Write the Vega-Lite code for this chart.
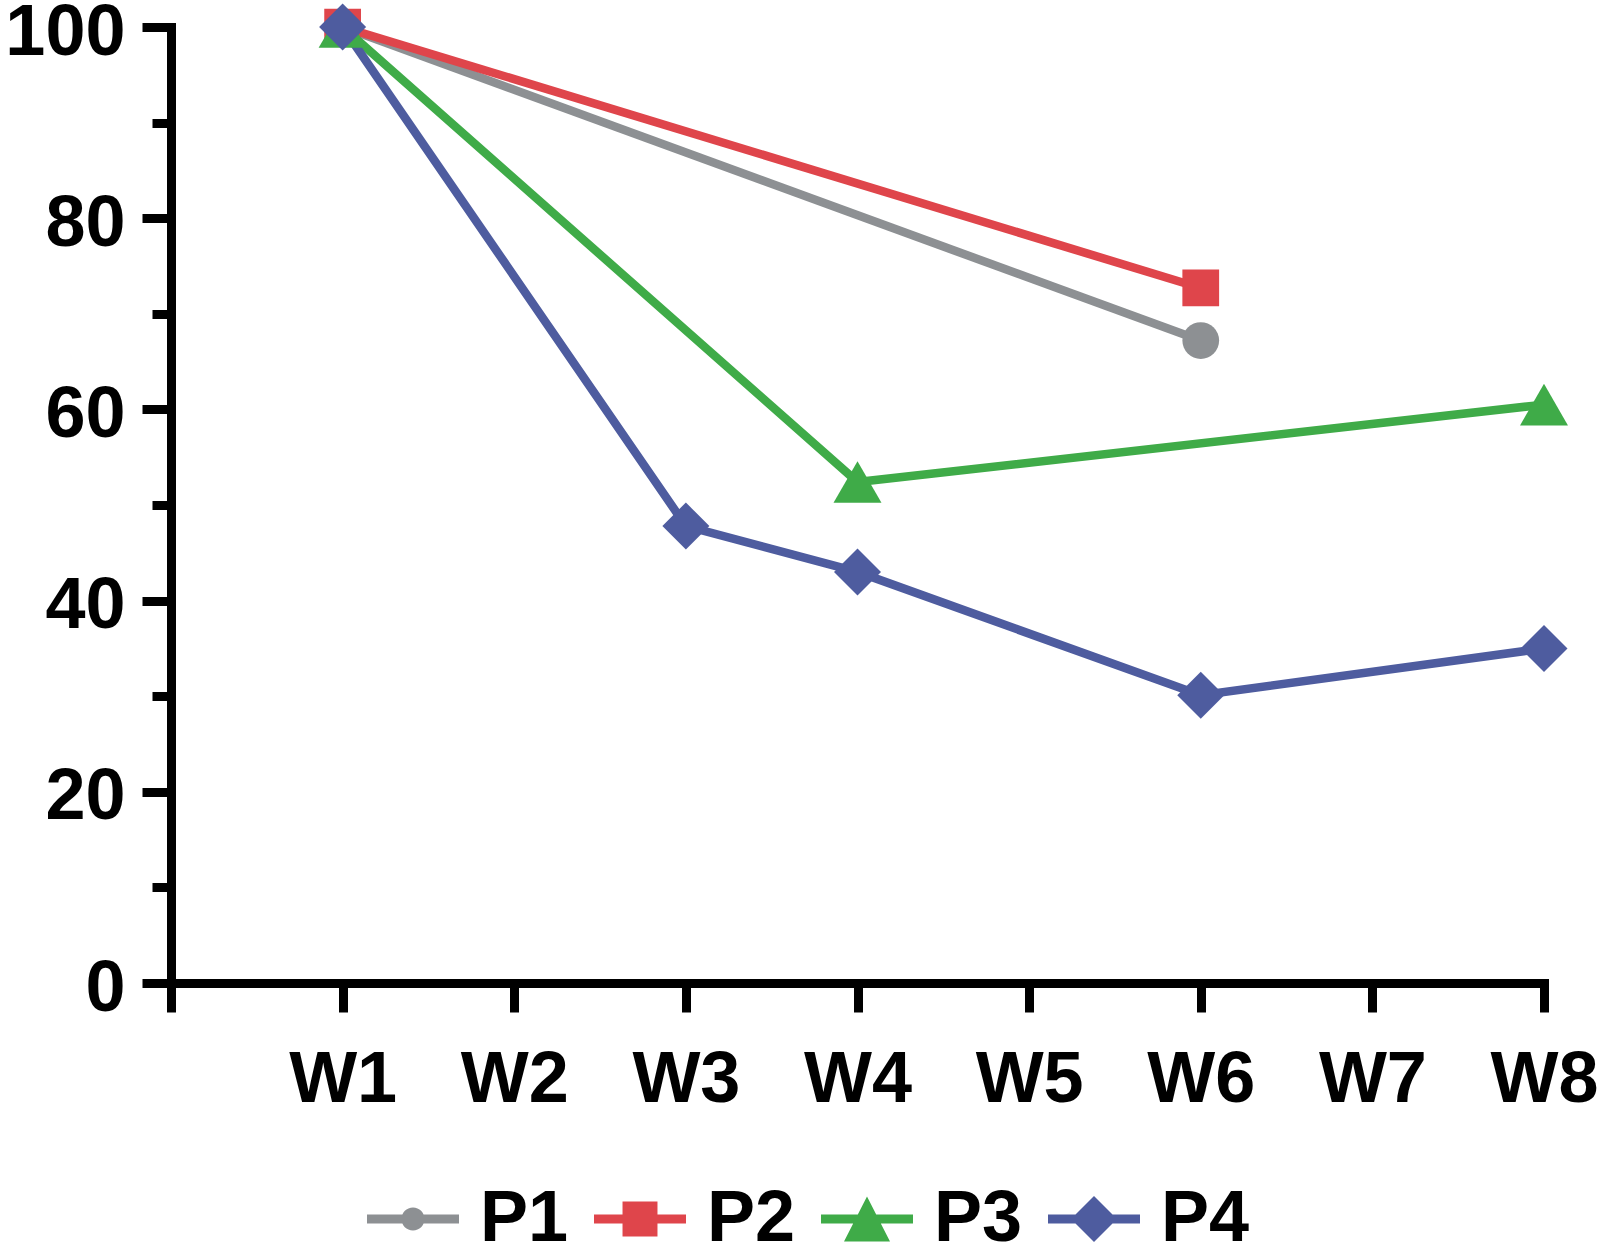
{
  "$schema": "https://vega.github.io/schema/vega-lite/v6.json",
  "width": 1373,
  "height": 956,
  "autosize": {"type": "none"},
  "padding": {"left": 171, "top": 27, "right": 56, "bottom": 273},
  "background": "white",
  "config": {
    "view": {"stroke": null},
    "font": "Liberation Sans",
    "axis": {
      "grid": false,
      "title": null,
      "domainColor": "black",
      "domainWidth": 9,
      "domainCap": "square",
      "tickColor": "black",
      "tickWidth": 9,
      "labelColor": "black",
      "labelFont": "Liberation Sans",
      "labelFontWeight": "bold",
      "labelFontSize": 72,
      "labelFlush": false,
      "labelOverlap": false
    }
  },
  "data": {
    "values": [
      {"series": "P1", "week": 1, "value": 100},
      {"series": "P1", "week": 6, "value": 67.2},
      {"series": "P2", "week": 1, "value": 100},
      {"series": "P2", "week": 6, "value": 72.7},
      {"series": "P3", "week": 1, "value": 100},
      {"series": "P3", "week": 4, "value": 52.4},
      {"series": "P3", "week": 8, "value": 60.5},
      {"series": "P4", "week": 1, "value": 100},
      {"series": "P4", "week": 3, "value": 47.8},
      {"series": "P4", "week": 4, "value": 43.0},
      {"series": "P4", "week": 6, "value": 30.1},
      {"series": "P4", "week": 8, "value": 35.0}
    ]
  },
  "encoding": {
    "x": {
      "field": "week",
      "type": "quantitative",
      "scale": {"domain": [0, 8], "nice": false, "zero": false},
      "axis": {
        "values": [0, 1, 2, 3, 4, 5, 6, 7, 8],
        "tickSize": 29,
        "labelPadding": 32,
        "labelExpr": "datum.value === 0 ? '' : 'W' + datum.value"
      }
    },
    "y": {
      "field": "value",
      "type": "quantitative",
      "scale": {"domain": [0, 100], "nice": false},
      "axis": {
        "values": [0, 10, 20, 30, 40, 50, 60, 70, 80, 90, 100],
        "tickSize": {"condition": {"test": "datum.value % 20 !== 0", "value": 19}, "value": 29},
        "labelPadding": 17,
        "labelOffset": 5,
        "labelExpr": "datum.value % 20 === 0 ? datum.label : ''"
      }
    },
    "color": {
      "field": "series",
      "type": "nominal",
      "scale": {
        "domain": ["P1", "P2", "P3", "P4"],
        "range": ["#8d9093", "#df454b", "#3fab48", "#4e5c9f"]
      },
      "legend": {
        "title": null,
        "orient": "none",
        "legendX": 206,
        "legendY": 1156,
        "direction": "horizontal",
        "padding": 0,
        "symbolSize": 2116,
        "labelOffset": 31,
        "columnPadding": 25,
        "labelFont": "Liberation Sans",
        "labelFontWeight": "bold",
        "labelFontSize": 72,
        "labelColor": "black",
        "encode": {
          "symbols": {
            "update": {
              "shape": {"signal": "datum.value === 'P1' ? 'M-2,-0.2H2V0.2H-2Z M-0.5,0A0.5,0.5 0 1,1 0.5,0A0.5,0.5 0 1,1 -0.5,0Z' : datum.value === 'P2' ? 'M-2,-0.2H2V0.2H-2Z M-0.76,-0.76H0.76V0.76H-0.76Z' : datum.value === 'P3' ? 'M-2,-0.2H2V0.2H-2Z M0,-0.98L1,0.98L-1,0.98Z' : 'M-2,-0.2H2V0.2H-2Z M0,-1L1,0L0,1L-1,0Z'"},
              "fill": {"signal": "scale('color', datum.value)"},
              "stroke": {"value": "transparent"},
              "strokeWidth": {"value": 0},
              "opacity": {"value": 1},
              "size": {"value": 2116}
            }
          }
        }
      }
    }
  },
  "layer": [
    {
      "mark": {"type": "line", "strokeWidth": 8.5},
      "encoding": {"detail": {"field": "series"}}
    },
    {
      "mark": {"type": "point", "filled": true, "opacity": 1},
      "encoding": {
        "shape": {
          "condition": [
            {"test": "datum.series === 'P2'", "value": "square"},
            {"test": "datum.series === 'P3'", "value": "triangle-up"},
            {"test": "datum.series === 'P4'", "value": "diamond"}
          ],
          "value": "circle"
        },
        "size": {
          "condition": [
            {"test": "datum.series === 'P3'", "value": 2300},
            {"test": "datum.series === 'P4'", "value": 2209}
          ],
          "value": 1350
        }
      }
    }
  ]
}
